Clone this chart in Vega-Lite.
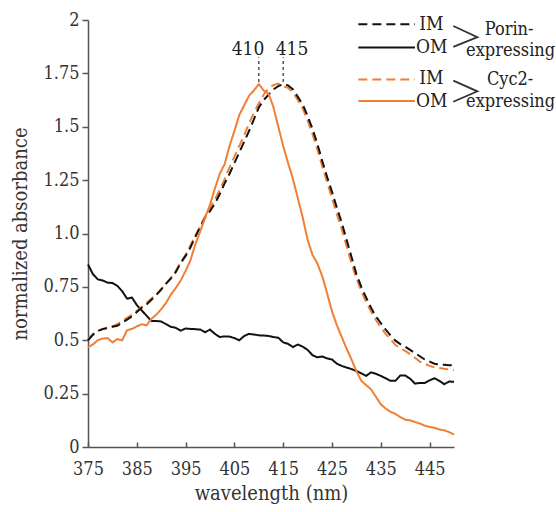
{
  "$schema": "https://vega.github.io/schema/vega-lite/v6.json",
  "width": 366,
  "height": 427,
  "autosize": {"type": "none"},
  "padding": {"left": 88, "top": 20, "right": 102, "bottom": 65},
  "config": {
    "font": "DejaVu Serif Condensed, DejaVu Serif",
    "view": {"stroke": null},
    "axis": {"grid": false, "labelFont": "DejaVu Serif Condensed, DejaVu Serif", "titleFont": "DejaVu Serif Condensed, DejaVu Serif", "domainColor": "#555555", "tickColor": "#555555", "labelColor": "#333333", "titleColor": "#333333", "domainWidth": 1.5, "tickWidth": 1.5, "labelFontSize": 18, "titleFontSize": 20, "titleFontWeight": "normal", "labelFlush": false}
  },
  "datasets": {
    "curves": [
      {"wl":375,"Porin IM":0.50,"Porin OM":0.855,"Cyc2 IM":0.505,"Cyc2 OM":0.468},
      {"wl":376,"Porin IM":0.525,"Porin OM":0.81,"Cyc2 IM":0.53,"Cyc2 OM":0.48},
      {"wl":377,"Porin IM":0.543,"Porin OM":0.785,"Cyc2 IM":0.545,"Cyc2 OM":0.50},
      {"wl":378,"Porin IM":0.552,"Porin OM":0.78,"Cyc2 IM":0.553,"Cyc2 OM":0.508},
      {"wl":379,"Porin IM":0.557,"Porin OM":0.77,"Cyc2 IM":0.56,"Cyc2 OM":0.51},
      {"wl":380,"Porin IM":0.563,"Porin OM":0.768,"Cyc2 IM":0.565,"Cyc2 OM":0.49},
      {"wl":381,"Porin IM":0.568,"Porin OM":0.755,"Cyc2 IM":0.575,"Cyc2 OM":0.505},
      {"wl":382,"Porin IM":0.582,"Porin OM":0.73,"Cyc2 IM":0.59,"Cyc2 OM":0.50},
      {"wl":383,"Porin IM":0.597,"Porin OM":0.695,"Cyc2 IM":0.605,"Cyc2 OM":0.547},
      {"wl":384,"Porin IM":0.612,"Porin OM":0.70,"Cyc2 IM":0.62,"Cyc2 OM":0.553},
      {"wl":385,"Porin IM":0.632,"Porin OM":0.665,"Cyc2 IM":0.638,"Cyc2 OM":0.565},
      {"wl":386,"Porin IM":0.652,"Porin OM":0.64,"Cyc2 IM":0.655,"Cyc2 OM":0.575},
      {"wl":387,"Porin IM":0.668,"Porin OM":0.615,"Cyc2 IM":0.675,"Cyc2 OM":0.57},
      {"wl":388,"Porin IM":0.69,"Porin OM":0.59,"Cyc2 IM":0.695,"Cyc2 OM":0.60},
      {"wl":389,"Porin IM":0.712,"Porin OM":0.59,"Cyc2 IM":0.715,"Cyc2 OM":0.62},
      {"wl":390,"Porin IM":0.737,"Porin OM":0.588,"Cyc2 IM":0.74,"Cyc2 OM":0.645},
      {"wl":391,"Porin IM":0.765,"Porin OM":0.575,"Cyc2 IM":0.765,"Cyc2 OM":0.675},
      {"wl":392,"Porin IM":0.79,"Porin OM":0.563,"Cyc2 IM":0.792,"Cyc2 OM":0.715},
      {"wl":393,"Porin IM":0.82,"Porin OM":0.558,"Cyc2 IM":0.825,"Cyc2 OM":0.745},
      {"wl":394,"Porin IM":0.862,"Porin OM":0.545,"Cyc2 IM":0.865,"Cyc2 OM":0.78},
      {"wl":395,"Porin IM":0.895,"Porin OM":0.555,"Cyc2 IM":0.90,"Cyc2 OM":0.825},
      {"wl":396,"Porin IM":0.935,"Porin OM":0.553,"Cyc2 IM":0.945,"Cyc2 OM":0.875},
      {"wl":397,"Porin IM":0.985,"Porin OM":0.552,"Cyc2 IM":0.99,"Cyc2 OM":0.95},
      {"wl":398,"Porin IM":1.03,"Porin OM":0.55,"Cyc2 IM":1.035,"Cyc2 OM":1.01},
      {"wl":399,"Porin IM":1.075,"Porin OM":0.537,"Cyc2 IM":1.08,"Cyc2 OM":1.075},
      {"wl":400,"Porin IM":1.105,"Porin OM":0.55,"Cyc2 IM":1.12,"Cyc2 OM":1.135},
      {"wl":401,"Porin IM":1.14,"Porin OM":0.53,"Cyc2 IM":1.16,"Cyc2 OM":1.21},
      {"wl":402,"Porin IM":1.185,"Porin OM":0.515,"Cyc2 IM":1.205,"Cyc2 OM":1.28},
      {"wl":403,"Porin IM":1.235,"Porin OM":0.518,"Cyc2 IM":1.255,"Cyc2 OM":1.325},
      {"wl":404,"Porin IM":1.28,"Porin OM":0.517,"Cyc2 IM":1.31,"Cyc2 OM":1.41},
      {"wl":405,"Porin IM":1.33,"Porin OM":0.51,"Cyc2 IM":1.36,"Cyc2 OM":1.48},
      {"wl":406,"Porin IM":1.38,"Porin OM":0.50,"Cyc2 IM":1.41,"Cyc2 OM":1.555},
      {"wl":407,"Porin IM":1.43,"Porin OM":0.52,"Cyc2 IM":1.46,"Cyc2 OM":1.60},
      {"wl":408,"Porin IM":1.48,"Porin OM":0.53,"Cyc2 IM":1.515,"Cyc2 OM":1.645},
      {"wl":409,"Porin IM":1.535,"Porin OM":0.527,"Cyc2 IM":1.565,"Cyc2 OM":1.67},
      {"wl":410,"Porin IM":1.59,"Porin OM":0.523,"Cyc2 IM":1.61,"Cyc2 OM":1.70},
      {"wl":411,"Porin IM":1.625,"Porin OM":0.522,"Cyc2 IM":1.65,"Cyc2 OM":1.67},
      {"wl":412,"Porin IM":1.65,"Porin OM":0.52,"Cyc2 IM":1.68,"Cyc2 OM":1.655},
      {"wl":413,"Porin IM":1.675,"Porin OM":0.515,"Cyc2 IM":1.695,"Cyc2 OM":1.592},
      {"wl":414,"Porin IM":1.69,"Porin OM":0.512,"Cyc2 IM":1.702,"Cyc2 OM":1.50},
      {"wl":415,"Porin IM":1.70,"Porin OM":0.49,"Cyc2 IM":1.69,"Cyc2 OM":1.41},
      {"wl":416,"Porin IM":1.694,"Porin OM":0.483,"Cyc2 IM":1.683,"Cyc2 OM":1.33},
      {"wl":417,"Porin IM":1.675,"Porin OM":0.468,"Cyc2 IM":1.66,"Cyc2 OM":1.255},
      {"wl":418,"Porin IM":1.64,"Porin OM":0.48,"Cyc2 IM":1.625,"Cyc2 OM":1.165},
      {"wl":419,"Porin IM":1.605,"Porin OM":0.47,"Cyc2 IM":1.585,"Cyc2 OM":1.075},
      {"wl":420,"Porin IM":1.55,"Porin OM":0.455,"Cyc2 IM":1.53,"Cyc2 OM":0.97},
      {"wl":421,"Porin IM":1.49,"Porin OM":0.43,"Cyc2 IM":1.465,"Cyc2 OM":0.90},
      {"wl":422,"Porin IM":1.42,"Porin OM":0.42,"Cyc2 IM":1.395,"Cyc2 OM":0.86},
      {"wl":423,"Porin IM":1.34,"Porin OM":0.424,"Cyc2 IM":1.315,"Cyc2 OM":0.80},
      {"wl":424,"Porin IM":1.265,"Porin OM":0.415,"Cyc2 IM":1.24,"Cyc2 OM":0.72},
      {"wl":425,"Porin IM":1.195,"Porin OM":0.41,"Cyc2 IM":1.165,"Cyc2 OM":0.635},
      {"wl":426,"Porin IM":1.12,"Porin OM":0.39,"Cyc2 IM":1.09,"Cyc2 OM":0.57},
      {"wl":427,"Porin IM":1.05,"Porin OM":0.38,"Cyc2 IM":1.02,"Cyc2 OM":0.515},
      {"wl":428,"Porin IM":0.97,"Porin OM":0.372,"Cyc2 IM":0.94,"Cyc2 OM":0.46},
      {"wl":429,"Porin IM":0.89,"Porin OM":0.365,"Cyc2 IM":0.86,"Cyc2 OM":0.41},
      {"wl":430,"Porin IM":0.81,"Porin OM":0.356,"Cyc2 IM":0.79,"Cyc2 OM":0.355},
      {"wl":431,"Porin IM":0.75,"Porin OM":0.345,"Cyc2 IM":0.73,"Cyc2 OM":0.31},
      {"wl":432,"Porin IM":0.70,"Porin OM":0.333,"Cyc2 IM":0.68,"Cyc2 OM":0.29},
      {"wl":433,"Porin IM":0.652,"Porin OM":0.35,"Cyc2 IM":0.635,"Cyc2 OM":0.27},
      {"wl":434,"Porin IM":0.612,"Porin OM":0.343,"Cyc2 IM":0.595,"Cyc2 OM":0.235},
      {"wl":435,"Porin IM":0.58,"Porin OM":0.333,"Cyc2 IM":0.56,"Cyc2 OM":0.20},
      {"wl":436,"Porin IM":0.55,"Porin OM":0.322,"Cyc2 IM":0.53,"Cyc2 OM":0.18},
      {"wl":437,"Porin IM":0.522,"Porin OM":0.31,"Cyc2 IM":0.503,"Cyc2 OM":0.165},
      {"wl":438,"Porin IM":0.498,"Porin OM":0.31,"Cyc2 IM":0.478,"Cyc2 OM":0.155},
      {"wl":439,"Porin IM":0.482,"Porin OM":0.335,"Cyc2 IM":0.462,"Cyc2 OM":0.14},
      {"wl":440,"Porin IM":0.47,"Porin OM":0.335,"Cyc2 IM":0.45,"Cyc2 OM":0.128},
      {"wl":441,"Porin IM":0.455,"Porin OM":0.32,"Cyc2 IM":0.435,"Cyc2 OM":0.125},
      {"wl":442,"Porin IM":0.44,"Porin OM":0.297,"Cyc2 IM":0.418,"Cyc2 OM":0.117},
      {"wl":443,"Porin IM":0.425,"Porin OM":0.30,"Cyc2 IM":0.40,"Cyc2 OM":0.11},
      {"wl":444,"Porin IM":0.41,"Porin OM":0.30,"Cyc2 IM":0.39,"Cyc2 OM":0.10},
      {"wl":445,"Porin IM":0.40,"Porin OM":0.312,"Cyc2 IM":0.38,"Cyc2 OM":0.094},
      {"wl":446,"Porin IM":0.39,"Porin OM":0.322,"Cyc2 IM":0.373,"Cyc2 OM":0.09},
      {"wl":447,"Porin IM":0.387,"Porin OM":0.31,"Cyc2 IM":0.37,"Cyc2 OM":0.082},
      {"wl":448,"Porin IM":0.385,"Porin OM":0.294,"Cyc2 IM":0.366,"Cyc2 OM":0.078},
      {"wl":449,"Porin IM":0.383,"Porin OM":0.307,"Cyc2 IM":0.363,"Cyc2 OM":0.07},
      {"wl":450,"Porin IM":0.382,"Porin OM":0.305,"Cyc2 IM":0.36,"Cyc2 OM":0.058}
    ],
    "legendLines": [
      {"series":"Porin IM","wl":430.4,"abs":1.980},
      {"series":"Porin IM","wl":442.0,"abs":1.980},
      {"series":"Porin OM","wl":430.4,"abs":1.871},
      {"series":"Porin OM","wl":442.0,"abs":1.871},
      {"series":"Cyc2 IM","wl":430.4,"abs":1.721},
      {"series":"Cyc2 IM","wl":442.0,"abs":1.721},
      {"series":"Cyc2 OM","wl":430.4,"abs":1.621},
      {"series":"Cyc2 OM","wl":442.0,"abs":1.621}
    ],
    "legendLabels": [
      {"label":"IM","wl":442.9,"abs":1.955},
      {"label":"OM","wl":442.2,"abs":1.845},
      {"label":"IM","wl":442.9,"abs":1.699},
      {"label":"OM","wl":442.2,"abs":1.593}
    ],
    "brackets": [
      {"grp":"Porin","o":1,"wl":449.86,"abs":1.972},
      {"grp":"Porin","o":2,"wl":454.8,"abs":1.920},
      {"grp":"Porin","o":3,"wl":449.86,"abs":1.874},
      {"grp":"Cyc2","o":1,"wl":449.86,"abs":1.716},
      {"grp":"Cyc2","o":2,"wl":454.8,"abs":1.666},
      {"grp":"Cyc2","o":3,"wl":449.86,"abs":1.617}
    ],
    "groupLabels": [
      {"label":"Porin-","wl":461.3,"abs":1.928},
      {"label":"expressing","wl":461.6,"abs":1.830},
      {"label":"Cyc2-","wl":461.5,"abs":1.694},
      {"label":"expressing","wl":461.6,"abs":1.593}
    ],
    "peaks": [
      {"peak":410,"wl":410,"abs":1.71,"abs2":1.825,"label":"410","lx":407.8,"ly":1.835},
      {"peak":415,"wl":415,"abs":1.71,"abs2":1.825,"label":"415","lx":416.8,"ly":1.835}
    ]
  },
  "layer": [
    {
      "data": {"name": "curves"},
      "transform": [{"fold": ["Porin OM", "Cyc2 IM", "Porin IM", "Cyc2 OM"], "as": ["series", "abs"]}],
      "mark": {"type": "line", "strokeWidth": 2},
      "encoding": {
        "x": {"field": "wl", "type": "quantitative", "scale": {"domain": [375, 450], "nice": false, "zero": false},
          "axis": {"title": "wavelength (nm)", "values": [375,385,395,405,415,425,435,445], "tickSize": -5, "labelPadding": 18, "titlePadding": 5}},
        "y": {"field": "abs", "type": "quantitative", "scale": {"domain": [0, 2], "nice": false, "zero": false},
          "axis": {"title": "normalized absorbance", "values": [0,0.25,0.5,0.75,1,1.25,1.5,1.75,2], "tickSize": 6, "labelPadding": 3, "titlePadding": 12,
            "labelExpr": "datum.value === 1 ? '1.0' : toString(datum.value)"}},
        "color": {"field": "series", "type": "nominal", "legend": null,
          "scale": {"domain": ["Porin IM","Porin OM","Cyc2 IM","Cyc2 OM"], "range": ["#111111","#111111","#F07F35","#F07F35"]}},
        "strokeDash": {"field": "series", "type": "nominal", "legend": null,
          "scale": {"domain": ["Porin IM","Porin OM","Cyc2 IM","Cyc2 OM"], "range": [[9,5],[1,0],[9,5],[1,0]]}}
      }
    },
    {
      "data": {"name": "legendLines"},
      "mark": {"type": "line", "strokeWidth": 2},
      "encoding": {
        "x": {"field": "wl", "type": "quantitative"},
        "y": {"field": "abs", "type": "quantitative"},
        "color": {"field": "series", "type": "nominal", "legend": null},
        "strokeDash": {"field": "series", "type": "nominal", "legend": null}
      }
    },
    {
      "data": {"name": "legendLabels"},
      "mark": {"type": "text", "align": "left", "baseline": "alphabetic", "fontSize": 19, "color": "#222222", "font": "DejaVu Serif Condensed, DejaVu Serif"},
      "encoding": {
        "x": {"field": "wl", "type": "quantitative"},
        "y": {"field": "abs", "type": "quantitative"},
        "text": {"field": "label"}
      }
    },
    {
      "data": {"name": "brackets"},
      "mark": {"type": "line", "strokeWidth": 1.8, "color": "#333333"},
      "encoding": {
        "x": {"field": "wl", "type": "quantitative"},
        "y": {"field": "abs", "type": "quantitative"},
        "detail": {"field": "grp"},
        "order": {"field": "o"}
      }
    },
    {
      "data": {"name": "groupLabels"},
      "mark": {"type": "text", "align": "center", "baseline": "alphabetic", "fontSize": 18, "color": "#222222", "font": "DejaVu Serif Condensed, DejaVu Serif"},
      "encoding": {
        "x": {"field": "wl", "type": "quantitative"},
        "y": {"field": "abs", "type": "quantitative"},
        "text": {"field": "label"}
      }
    },
    {
      "data": {"name": "peaks"},
      "mark": {"type": "rule", "strokeDash": [3, 3], "strokeWidth": 1.5, "color": "#555555"},
      "encoding": {
        "x": {"field": "wl", "type": "quantitative"},
        "y": {"field": "abs", "type": "quantitative"},
        "y2": {"field": "abs2"}
      }
    },
    {
      "data": {"name": "peaks"},
      "mark": {"type": "text", "align": "center", "baseline": "alphabetic", "fontSize": 19, "color": "#222222", "font": "DejaVu Serif Condensed, DejaVu Serif"},
      "encoding": {
        "x": {"field": "lx", "type": "quantitative"},
        "y": {"field": "ly", "type": "quantitative"},
        "text": {"field": "label"}
      }
    }
  ]
}
